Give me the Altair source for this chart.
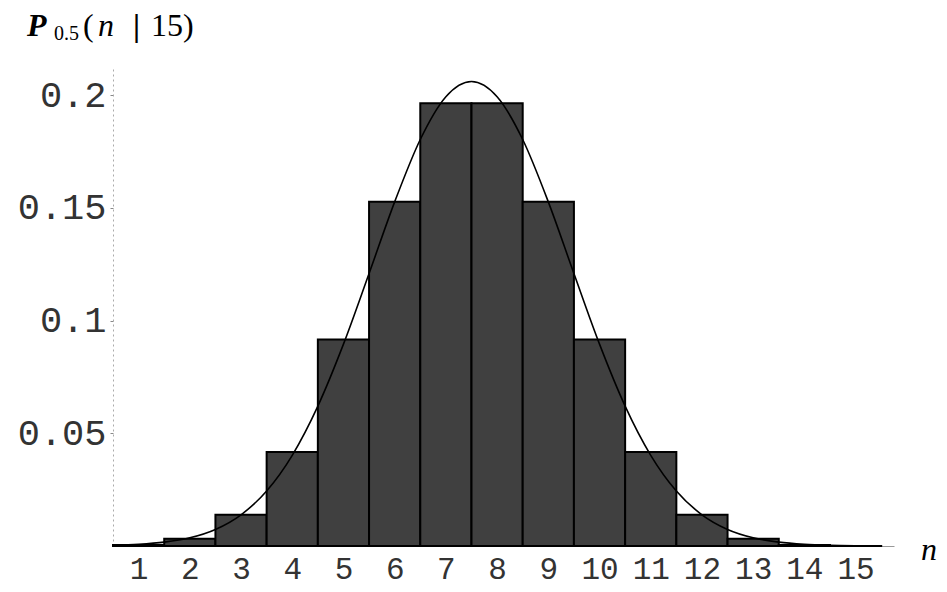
import altair as alt
import pandas as pd

# Binomial probabilities P_0.5(n|15)
n_vals = [1, 2, 3, 4, 5, 6, 7, 8, 9, 10, 11, 12, 13, 14, 15]
p_vals = [0.00046, 0.0032, 0.0139, 0.0417, 0.0916, 0.1527, 0.1964,
          0.1964, 0.1527, 0.0916, 0.0417, 0.0139, 0.0032, 0.00046, 0.00003]

# Smooth approximating curve, read at half steps
curve_x = [0.5, 1.0, 1.5, 2.0, 2.5, 3.0, 3.5, 4.0, 4.5, 5.0, 5.5, 6.0, 6.5, 7.0, 7.5,
           8.0, 8.5, 9.0, 9.5, 10.0, 10.5, 11.0, 11.5, 12.0, 12.5, 13.0, 13.5, 14.0,
           14.5, 15.0, 15.5]
curve_y = [0.00030, 0.00074, 0.00170, 0.00365, 0.00735, 0.01385, 0.02440, 0.04023,
           0.06205, 0.08953, 0.12086, 0.15262, 0.18029, 0.19926, 0.20601, 0.19926,
           0.18029, 0.15262, 0.12086, 0.08953, 0.06205, 0.04023, 0.02440, 0.01385,
           0.00735, 0.00365, 0.00170, 0.00074, 0.00030, 0.00011, 0.00004]

x_ticks = list(range(1, 16))
y_ticks = [0.05, 0.1, 0.15, 0.2]

bars = pd.DataFrame({"n": n_vals, "p": p_vals})
bars["lo"] = bars["n"] - 0.5
bars["hi"] = bars["n"] + 0.5
curve = pd.DataFrame({"x": curve_x, "y": curve_y})

W, H = 781, 478
xs = alt.Scale(domain=[0.5, 15.75], nice=False, zero=False)
ys = alt.Scale(domain=[0, 0.212], nice=False, zero=True)

base_bars = alt.Chart(bars).mark_rect(
    fill="#404040", stroke="#000000", strokeWidth=2
).encode(
    x=alt.X("lo:Q", scale=xs, axis=alt.Axis(
        values=x_ticks, title=None, ticks=False, grid=False, format="d",
        labelFont="Liberation Mono", labelFontSize=31, labelColor="#333333",
        labelPadding=8, labelOverlap=False, labelFlush=False,
        domainColor="#999999", domainWidth=1)),
    x2="hi:Q",
    y=alt.Y("p:Q", scale=ys, axis=alt.Axis(
        values=y_ticks, title=None, grid=False, format=".2~f",
        labelFont="Liberation Mono", labelFontSize=37, labelColor="#333333",
        labelPadding=4, tickSize=3, tickColor="#888888",
        domainColor="#aaaaaa", domainDash=[2, 3], domainWidth=1)),
    y2=alt.value(H),
)

line = alt.Chart(curve).mark_line(
    color="#000000", strokeWidth=1.6, interpolate="monotone"
).encode(x=alt.X("x:Q", scale=xs), y=alt.Y("y:Q", scale=ys))

one = pd.DataFrame({"a": [0]})

def label(txt, x, y, size, style="normal", font="Liberation Serif", weight="normal"):
    return alt.Chart(one).mark_text(
        text=txt, font=font, fontSize=size, fontStyle=style, fontWeight=weight,
        align="left", baseline="alphabetic", color="#000000"
    ).encode(x=alt.value(x), y=alt.value(y))

title_parts = [
    label("P", -86, -32, 32, "italic", weight="bold"),
    label("0.5", -59, -28, 20),
    label("(", -30, -32, 32),
    label("n", -15, -32, 32, "italic"),
    label("|", 20, -32, 32, weight="bold"),
    label("15)", 38, -32, 32),
    label("n", 808, 14 + H, 32, "italic"),
]

chart = alt.layer(base_bars, line, *title_parts).properties(
    width=W, height=H,
    autosize=alt.AutoSizeParams(type="none"),
    padding={"left": 105, "top": 60, "right": 45, "bottom": 40},
).configure_view(stroke=None)

chart.save("out.html", embed_options={"renderer": "svg", "actions": False})
